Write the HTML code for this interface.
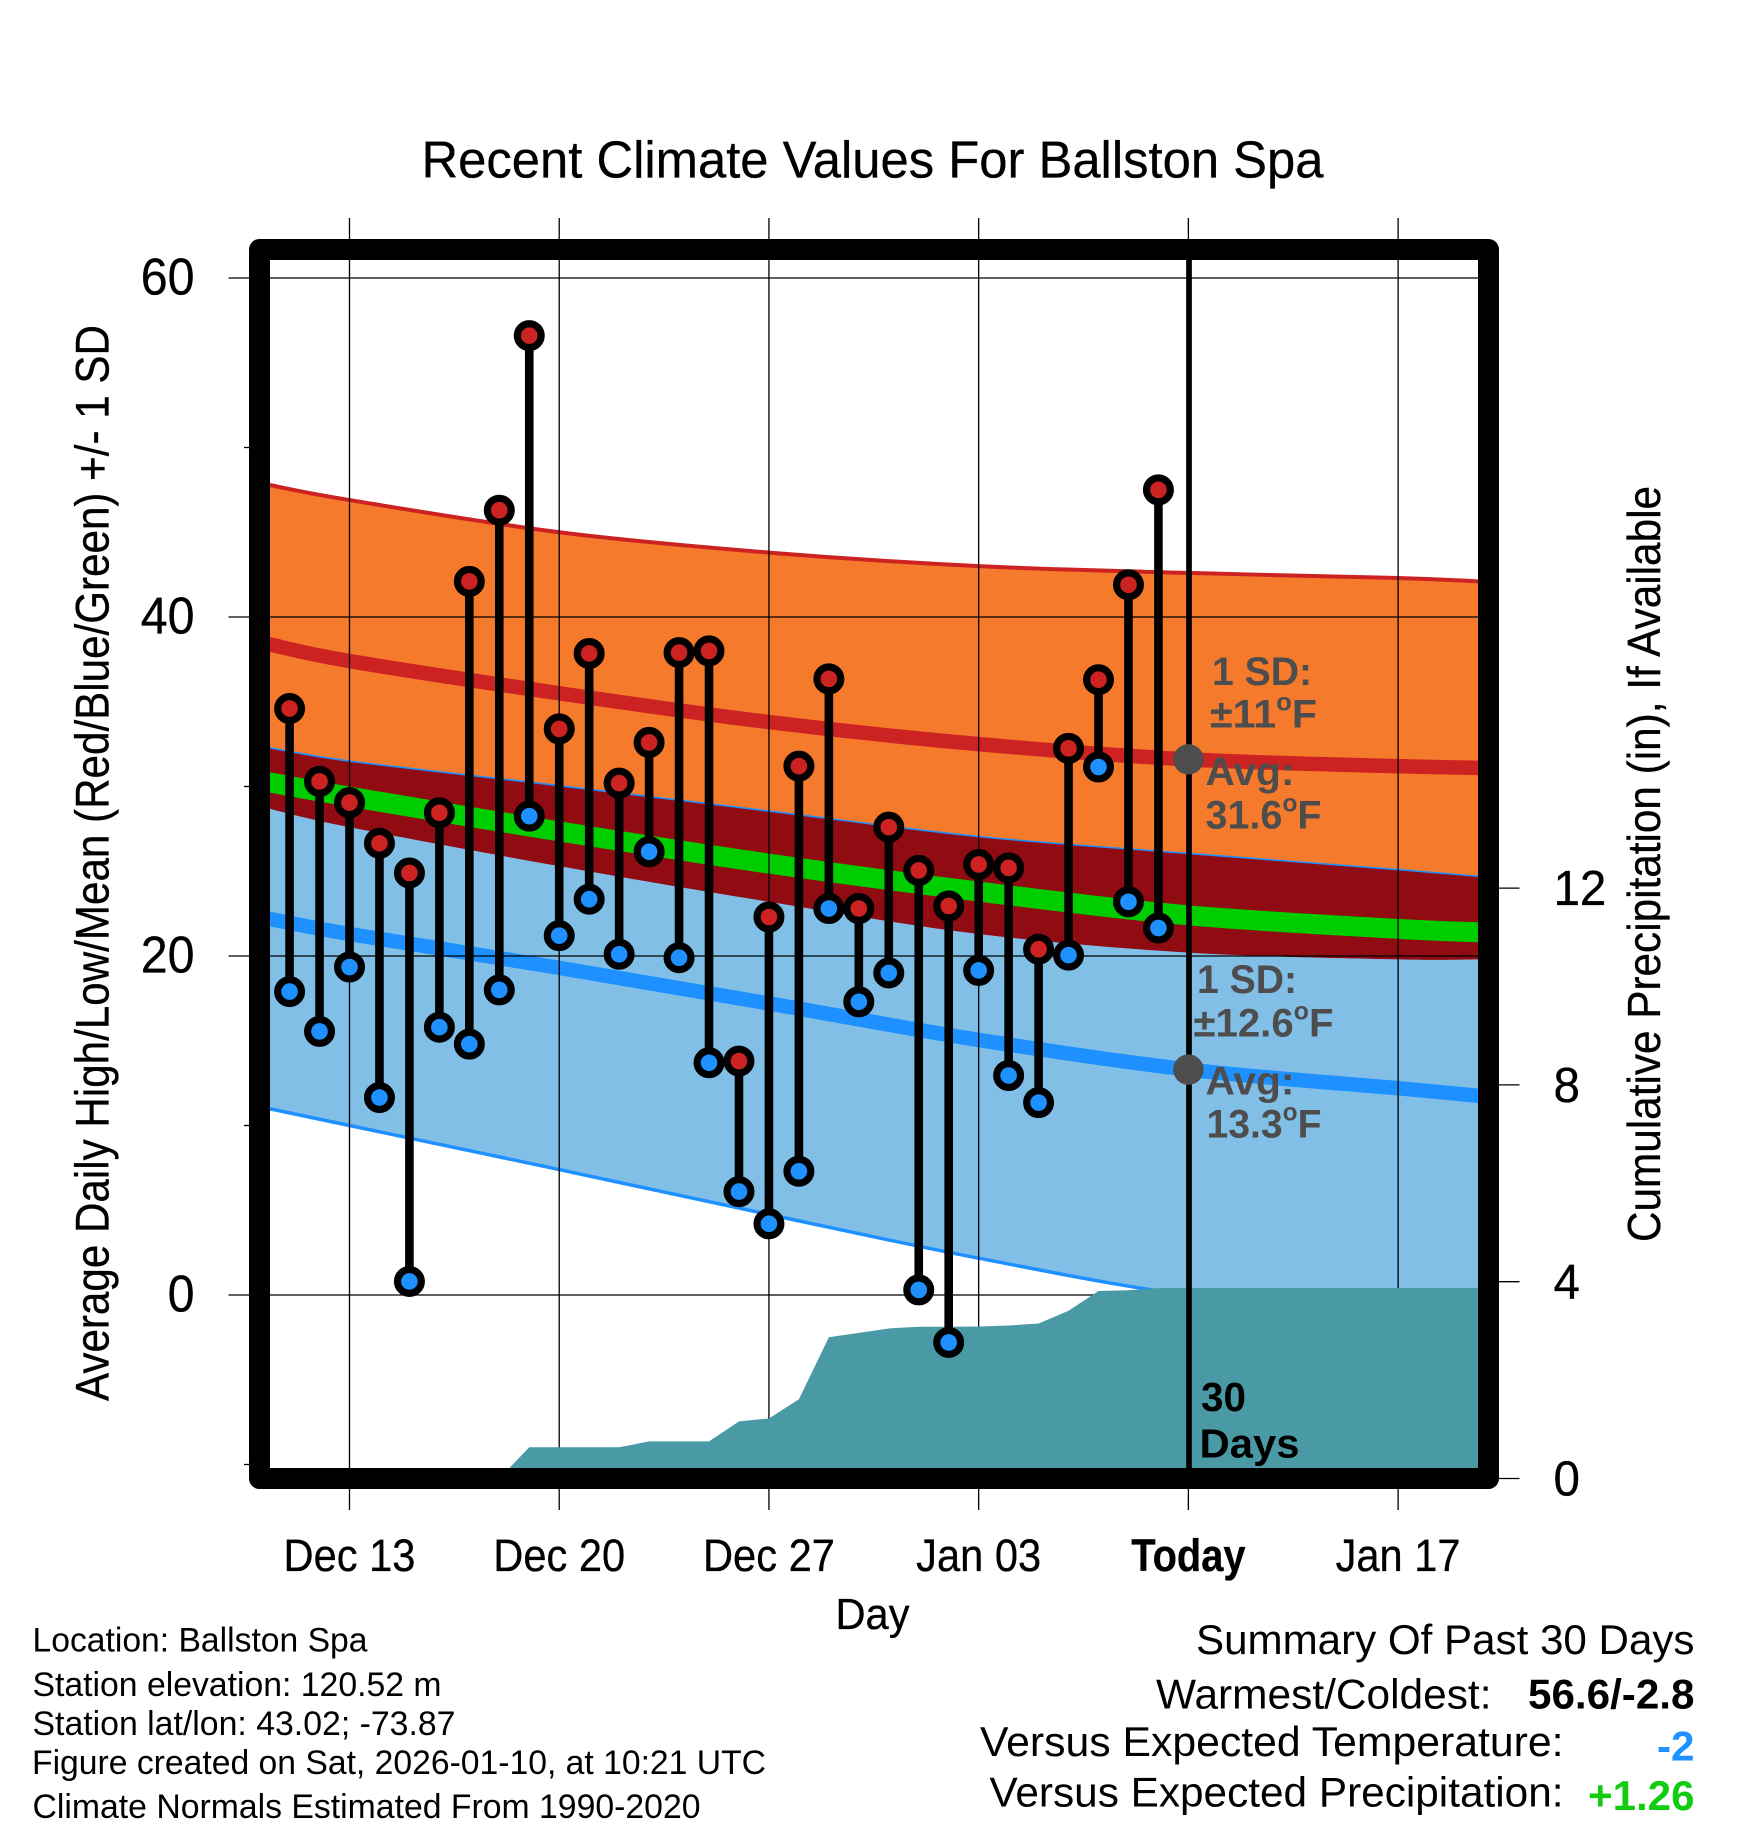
<!DOCTYPE html>
<html lang="en">
<head>
<meta charset="utf-8">
<title>Recent Climate Values For Ballston Spa</title>
<style>
html,body{margin:0;padding:0;background:#fff;}
svg{display:block;font-family:"Liberation Sans",sans-serif;}
</style>
</head>
<body>
<svg id="chart" xmlns="http://www.w3.org/2000/svg" width="1748" height="1828" viewBox="0 0 1748 1828">
  <defs>
    <clipPath id="plot-clip"><rect x="270" y="260" width="1208" height="1208"/></clipPath>
  </defs>
  <rect x="0" y="0" width="1748" height="1828" fill="#ffffff"/>

  <g id="bands" clip-path="url(#plot-clip)"></g>
  <g id="grid"></g>
  <g id="precip" clip-path="url(#plot-clip)"></g>
  <line x1="1189" y1="255" x2="1189" y2="1470" stroke="#000" stroke-width="5.7"/>
  <g id="today-dots"></g>
  <g id="stems"></g>
  <g id="points"></g>

  <g fill="#4d4d4d" font-weight="bold" font-size="40">
    <text x="1212" y="685" textLength="100" lengthAdjust="spacingAndGlyphs">1 SD:</text>
    <text x="1210" y="727.5" textLength="107" lengthAdjust="spacingAndGlyphs">±11<tspan font-size="25" dy="-17">o</tspan><tspan dy="17">F</tspan></text>
    <text x="1205.5" y="785" textLength="89" lengthAdjust="spacingAndGlyphs">Avg:</text>
    <text x="1205.5" y="828.5" textLength="116" lengthAdjust="spacingAndGlyphs">31.6<tspan font-size="25" dy="-17">o</tspan><tspan dy="17">F</tspan></text>
  </g>
  <g fill="#4d4d4d" font-weight="bold" font-size="40">
    <text x="1197" y="993" textLength="100" lengthAdjust="spacingAndGlyphs">1 SD:</text>
    <text x="1193.5" y="1036.5" textLength="140" lengthAdjust="spacingAndGlyphs">±12.6<tspan font-size="25" dy="-17">o</tspan><tspan dy="17">F</tspan></text>
    <text x="1205.5" y="1094.5" textLength="89" lengthAdjust="spacingAndGlyphs">Avg:</text>
    <text x="1206.5" y="1137.5" textLength="115" lengthAdjust="spacingAndGlyphs">13.3<tspan font-size="25" dy="-17">o</tspan><tspan dy="17">F</tspan></text>
  </g>
  <g fill="#000" font-weight="bold" font-size="41">
    <text x="1201" y="1411" textLength="45" lengthAdjust="spacingAndGlyphs">30</text>
    <text x="1199.5" y="1457.5" textLength="100" lengthAdjust="spacingAndGlyphs">Days</text>
  </g>

  <rect x="259.5" y="249.5" width="1229" height="1229" fill="none" stroke="#000" stroke-width="21" stroke-linejoin="round"/>
  <g id="ticks" stroke="#000" stroke-width="0.3"></g>

  <g stroke="#000" stroke-width="0.3">
    <text x="421.5" y="177.5" font-size="52" textLength="902" lengthAdjust="spacingAndGlyphs" fill="#000">Recent Climate Values For Ballston Spa</text>
    <text transform="translate(108.3,1401) rotate(-90)" font-size="47" textLength="1076" lengthAdjust="spacingAndGlyphs" fill="#000">Average Daily High/Low/Mean (Red/Blue/Green) +/- 1 SD</text>
    <text transform="translate(1660,1242) rotate(-90)" font-size="46" textLength="756" lengthAdjust="spacingAndGlyphs" fill="#000">Cumulative Precipitation (in), If Available</text>
    <text x="835.5" y="1629" font-size="44" textLength="74" lengthAdjust="spacingAndGlyphs" fill="#000">Day</text>
  </g>

  <g fill="#000" font-size="34">
    <text x="32.5" y="1651.5" textLength="335" lengthAdjust="spacingAndGlyphs">Location: Ballston Spa</text>
    <text x="32.5" y="1696" textLength="409" lengthAdjust="spacingAndGlyphs">Station elevation: 120.52 m</text>
    <text x="32.5" y="1735" textLength="423" lengthAdjust="spacingAndGlyphs">Station lat/lon: 43.02; -73.87</text>
    <text x="32" y="1774" textLength="734" lengthAdjust="spacingAndGlyphs">Figure created on Sat, 2026-01-10, at 10:21 UTC</text>
    <text x="32.5" y="1818" textLength="668" lengthAdjust="spacingAndGlyphs">Climate Normals Estimated From 1990-2020</text>
  </g>
  <g fill="#000" font-size="42">
    <text x="1196" y="1654" textLength="498.5" lengthAdjust="spacingAndGlyphs">Summary Of Past 30 Days</text>
    <text x="1156" y="1708.5" textLength="335.5" lengthAdjust="spacingAndGlyphs">Warmest/Coldest:</text>
    <text x="1528" y="1708.5" font-weight="bold" textLength="166.5" lengthAdjust="spacingAndGlyphs">56.6/-2.8</text>
    <text x="980" y="1756" textLength="583.5" lengthAdjust="spacingAndGlyphs">Versus Expected Temperature:</text>
    <text x="1657" y="1760.5" font-weight="bold" fill="#1e90ff" textLength="37.5" lengthAdjust="spacingAndGlyphs">-2</text>
    <text x="989.5" y="1806.5" textLength="574" lengthAdjust="spacingAndGlyphs">Versus Expected Precipitation:</text>
    <text x="1588" y="1810" font-weight="bold" fill="#11cc11" textLength="106.5" lengthAdjust="spacingAndGlyphs">+1.26</text>
  </g>
</svg>

<script>
// Daily observations, Dec 11 through Jan 9
const obsDayOffsets = [-2,-1,0,1,2,3,4,5,6,7,8,9,10,11,12,13,14,15,16,17,18,19,20,21,22,23,24,25,26,27];
const dailyHigh = [34.6,30.3,29.05,26.65,24.9,28.45,42.1,46.3,56.6,33.4,37.85,30.2,32.6,37.9,38.0,13.8,22.3,31.2,36.35,22.8,27.6,25.05,22.95,25.4,25.2,20.4,32.25,36.3,41.9,47.5];
const dailyLow = [17.9,15.55,19.35,11.65,0.8,15.8,14.8,18.0,28.25,21.2,23.35,20.1,26.15,19.9,13.7,6.1,4.2,7.3,22.8,17.3,19.0,0.3,-2.8,19.15,12.95,11.35,20.05,31.15,23.2,21.65];
const cumulativePrecip = [0,0,0,0,0,0,0,0,0.634,0.634,0.634,0.634,0.755,0.755,0.755,1.16,1.22,1.61,2.87,2.96,3.05,3.085,3.085,3.09,3.11,3.15,3.41,3.81,3.825,3.87];

// Climate normals, read at weekly dates (days after Dec 13)
const normalDayOffsets = [-2.7,0,7,14,21,28,35,37.7];
const highPlusSd = [47.8,46.9,45.0,43.8,43.0,42.6,42.3,42.1];
const highMean = [38.4,37.4,35.5,33.8,32.5,31.6,31.2,31.1];
const highMinusSd = [28.7,27.6,25.3,23.2,21.3,20.2,19.8,19.8];
const overallMean = [30.25,29.4,27.35,25.45,23.8,22.4,21.6,21.4];
const lowPlusSd = [32.3,31.5,30.05,28.55,27.05,26.05,25.1,24.7];
const lowMean = [22.2,21.3,19.3,17.2,15.05,13.3,12.2,11.75];
const lowMinusSd = [11.0,10.0,7.4,4.75,2.17,0.0,-1.0,-1.2];

// Today's averages
const todayOffset = 28;
const todayMeans = [31.6,13.3];

// Axis ticks
const xTickDays = [0,7,14,21,28,35];
const xTickLabels = ['Dec 13','Dec 20','Dec 27','Jan 03','Today','Jan 17'];
const yMajorTicks = [60,40,20,0];
const yMinorTicks = [50,30,10,-10];
const precipTicks = [12,8,4,0];

const NS = 'http://www.w3.org/2000/svg';
const xScale = d => 349.5 + 29.96 * d;
const yScale = v => 1295 - 16.95 * v;
const pScale = v => 1478.5 - 49.2 * v;

function make(tag, parent, props) {
  const el = document.createElementNS(NS, tag);
  for (const k in props) el.setAttribute(k, props[k]);
  parent.appendChild(el);
  return el;
}

function smooth(days, vals) {
  const p = days.map((d, i) => [xScale(d), yScale(vals[i])]);
  let s = 'M' + p[0][0] + ' ' + p[0][1];
  for (let i = 0; i < p.length - 1; i++) {
    const a = p[Math.max(i - 1, 0)], b = p[i], c = p[i + 1], e = p[Math.min(i + 2, p.length - 1)];
    const c1x = b[0] + (c[0] - a[0]) / 6, c1y = b[1] + (c[1] - a[1]) / 6;
    const c2x = c[0] - (e[0] - b[0]) / 6, c2y = c[1] - (e[1] - b[1]) / 6;
    s += 'C' + c1x + ' ' + c1y + ' ' + c2x + ' ' + c2y + ' ' + c[0] + ' ' + c[1];
  }
  return s;
}

function bandPath(upper, lower) {
  const rev = normalDayOffsets.slice().reverse();
  const top = smooth(normalDayOffsets, upper);
  const bottom = smooth(rev, lower.slice().reverse());
  return top + 'L' + bottom.slice(1) + 'Z';
}

const bands = document.getElementById('bands');

const highBand = make('path', bands, {d: bandPath(highPlusSd, highMinusSd), fill: '#f67a2c'});



const lowBand = make('path', bands, {d: bandPath(lowPlusSd, lowMinusSd), fill: '#82bfe7'});



const overlapBand = make('path', bands, {d: bandPath(lowPlusSd, highMinusSd), fill: '#900c12'});



const highTopEdge = make('path', bands, {d: smooth(normalDayOffsets, highPlusSd), fill: 'none', stroke: '#cd2222', 'stroke-width': 4});



const lowTopEdge = make('path', bands, {d: smooth(normalDayOffsets, lowPlusSd), fill: 'none', stroke: '#1e90ff', 'stroke-width': 1.6});



const lowBottomEdge = make('path', bands, {d: smooth(normalDayOffsets, lowMinusSd), fill: 'none', stroke: '#1e90ff', 'stroke-width': 3.5});



const meanLine = make('path', bands, {d: smooth(normalDayOffsets, overallMean), fill: 'none', stroke: '#00cd00', 'stroke-width': 20});



const highMeanLine = make('path', bands, {d: smooth(normalDayOffsets, highMean), fill: 'none', stroke: '#cd2222', 'stroke-width': 14.5});



const lowMeanLine = make('path', bands, {d: smooth(normalDayOffsets, lowMean), fill: 'none', stroke: '#1e90ff', 'stroke-width': 14.5});



const grid = document.getElementById('grid');
xTickDays.forEach((d, i) => {
  const ln = make('line', grid, {x1: xScale(d), x2: xScale(d), y1: 218, y2: 1510, stroke: '#000', 'stroke-width': 1.3});
  
  
});
yMajorTicks.forEach(v => {
  const ln = make('line', grid, {x1: 228.5, x2: 1478, y1: yScale(v), y2: yScale(v), stroke: '#000', 'stroke-width': 1.3});
  
  
});

const precipPts = ['' + xScale(obsDayOffsets[0]) + ',' + pScale(0)];
obsDayOffsets.forEach((d, i) => precipPts.push(xScale(d) + ',' + pScale(cumulativePrecip[i])));
const lastPrecip = cumulativePrecip[cumulativePrecip.length - 1];
precipPts.push('1479,' + pScale(lastPrecip));
precipPts.push('1479,' + pScale(0));
const precipArea = make('polygon', document.getElementById('precip'), {points: precipPts.join(' '), fill: '#4a9aa5'});



todayMeans.forEach(v => {
  const dot = make('circle', document.getElementById('today-dots'), {cx: xScale(todayOffset), cy: yScale(v), r: 15.2, fill: '#4d4d4d'});
  
  
});

const stems = document.getElementById('stems');
const points = document.getElementById('points');
obsDayOffsets.forEach((d, i) => {
  const x = xScale(d);
  const stem = make('line', stems, {x1: x, x2: x, y1: yScale(dailyHigh[i]), y2: yScale(dailyLow[i]), stroke: '#000', 'stroke-width': 8.6});
  
  
});
obsDayOffsets.forEach((d, i) => {
  const x = xScale(d);
  const hi = make('circle', points, {cx: x, cy: yScale(dailyHigh[i]), r: 11.9, fill: '#cd2222', stroke: '#000', 'stroke-width': 7.2});
  
  
  const lo = make('circle', points, {cx: x, cy: yScale(dailyLow[i]), r: 11.9, fill: '#1e90ff', stroke: '#000', 'stroke-width': 7.2});
  
  
});

function squeeze(el, f) {
  el.setAttribute('textLength', el.getComputedTextLength() * f);
  el.setAttribute('lengthAdjust', 'spacingAndGlyphs');
}

const ticks = document.getElementById('ticks');
xTickDays.forEach((d, i) => {
  const t = make('text', ticks, {x: xScale(d), y: 1571, 'text-anchor': 'middle', 'font-size': 45, fill: '#000'});
  t.textContent = xTickLabels[i];
  
  
  if (xTickLabels[i] === 'Today') {
    t.setAttribute('font-weight', 'bold');
    squeeze(t, 0.885);
  } else {
    squeeze(t, 0.925);
  }
});
yMajorTicks.forEach(v => {
  const t = make('text', ticks, {x: 194.5, y: yScale(v) + 16.5, 'text-anchor': 'end', 'font-size': 52, fill: '#000'});
  t.textContent = String(v);
  
  
  squeeze(t, 0.93);
});
yMinorTicks.forEach(v => {
  const ln = make('line', ticks, {x1: 244, x2: 252, y1: yScale(v), y2: yScale(v), stroke: '#000', 'stroke-width': 1.3});
  
  
});
precipTicks.forEach(v => {
  const ln = make('line', ticks, {x1: 1496, x2: 1519.5, y1: pScale(v), y2: pScale(v), stroke: '#000', 'stroke-width': 1.3});
  
  
  const t = make('text', ticks, {x: 1553.5, y: pScale(v) + 17, 'font-size': 49, fill: '#000'});
  t.textContent = String(v);
  
  
  squeeze(t, 0.97);
});
</script>
</body>
</html>
